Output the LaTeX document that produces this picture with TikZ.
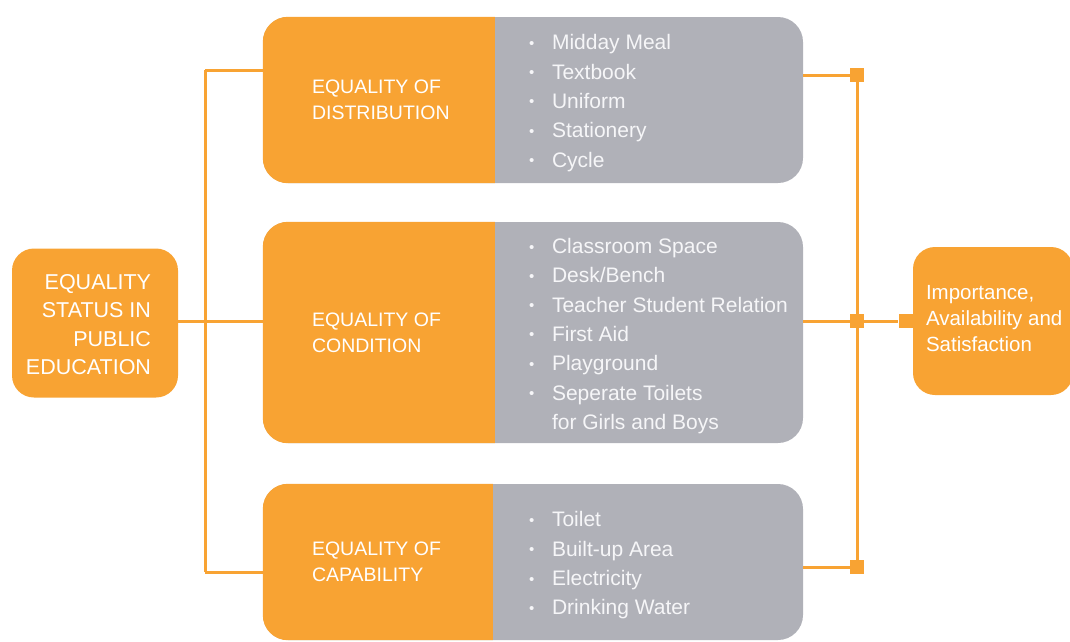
\documentclass[tikz,border=0pt]{standalone}
\usepackage{fontspec}
\setmainfont{Liberation Sans}
\usetikzlibrary{positioning, calc}
\definecolor{boxorange}{RGB}{248,163,51}
\definecolor{boxgrey}{RGB}{176,177,184}
\definecolor{itemwhite}{RGB}{246,246,248}
% bullet sign in front of each list line
\newcommand{\bul}{\makebox[23pt][l]{\raisebox{1.5pt}{\fontsize{15}{15}\selectfont\textbullet}}}
\tikzset{
  group box/.style={
    fill=boxgrey,
    rounded corners=25pt,
    minimum width=540pt,
    inner sep=0pt
  },
  head label/.style={
    text=white,
    align=left,
    inner sep=0pt,
    anchor=west,
    font=\fontsize{19.5}{26}\selectfont
  },
  item list/.style={
    text=itemwhite,
    align=left,
    inner sep=0pt,
    anchor=west,
    font=\fontsize{21}{29.3}\selectfont
  },
  side box/.style={
    fill=boxorange,
    rounded corners=22pt,
    inner sep=0pt
  },
  side text/.style={
    text=white,
    inner sep=0pt
  },
  link/.style={
    draw=boxorange,
    line width=3pt
  },
  joint/.style={
    fill=boxorange,
    minimum size=14pt,
    inner sep=0pt
  }
}

\begin{document}
\begin{tikzpicture}[x=1pt, y=-1pt]
  \useasboundingbox (0,0) rectangle (1070,641);

  % three grey group boxes
  \node[group box, minimum height=166pt] (dist) at (533,100) {};
  \node[group box, minimum height=221pt] (cond) at (533,332.5) {};
  \node[group box, minimum height=156pt] (capa) at (533,562) {};

  % orange left part of every group box
  \foreach \g/\w in {dist/232, cond/232, capa/230} {
    \begin{scope}
      \clip (\g.south west) rectangle ([xshift=\w pt]\g.north west);
      \fill[boxorange, rounded corners=25pt] (\g.south west) rectangle (\g.north east);
    \end{scope}
  }

  % group titles
  \node[head label, right=49pt of dist.west] (disthead) {EQUALITY OF\\DISTRIBUTION};
  \node[head label, right=49pt of cond.west] (condhead) {EQUALITY OF\\CONDITION};
  \node[head label, right=49pt of capa.west] (capahead) {EQUALITY OF\\CAPABILITY};

  % group items
  \node[item list, right=266pt of dist.west, yshift=-3pt] (distitems) {%
    \bul Midday Meal\\ \bul Textbook\\ \bul Uniform\\ \bul Stationery\\ \bul Cycle};
  \node[item list, right=266pt of cond.west, yshift=-3.5pt] (conditems) {%
    \bul Classroom Space\\ \bul Desk/Bench\\ \bul Teacher Student Relation\\
    \bul First Aid\\ \bul Playground\\ \bul Seperate Toilets\\
    \hspace*{23pt}for Girls and Boys};
  \node[item list, right=266pt of capa.west, yshift=-3.5pt] (capaitems) {%
    \bul Toilet\\ \bul Built-up Area\\ \bul Electricity\\ \bul Drinking Water};

  % left and right boxes
  \node[side box, minimum width=166pt, minimum height=149pt] (status) at (95,323) {};
  \node[side text, align=right, anchor=east, font=\fontsize{21.5}{28.5}\selectfont,
        left=27pt of status.east, yshift=-1.5pt] (statustext)
        {EQUALITY\\STATUS IN\\PUBLIC\\EDUCATION};
  \node[side box, minimum width=160pt, minimum height=148pt] (outcome) at (993,321) {};
  \node[side text, align=left, anchor=west, font=\fontsize{20.5}{26}\selectfont,
        right=13pt of outcome.west, yshift=2pt] (outcometext)
        {Importance,\\Availability and\\Satisfaction};

  % left bracket
  \coordinate (ltop) at (205,70);
  \coordinate (lbot) at (205,572);
  \draw[link] (ltop) -- (lbot);
  \draw[link] (ltop) -- (ltop -| dist.west);
  \draw[link] (status.east |- 0,321) -- (cond.west |- 0,321);
  \draw[link] (lbot) -- (lbot -| capa.west);

  % right bracket
  \coordinate (rtop) at (857,75);
  \coordinate (rmid) at (857,321);
  \coordinate (rbot) at (857,567);
  \draw[link] (rtop) -- (rbot);
  \draw[link] (rtop -| dist.east) -- (rtop);
  \draw[link] (rmid -| cond.east) -- (rmid);
  \draw[link] (rbot -| capa.east) -- (rbot);
  \node[joint, anchor=east] (jin) at (outcome.west) {};
  \draw[link] (rmid) -- (jin);
  \foreach \j in {rtop, rmid, rbot} {
    \node[joint] at (\j) {};
  }
\end{tikzpicture}
\end{document}
